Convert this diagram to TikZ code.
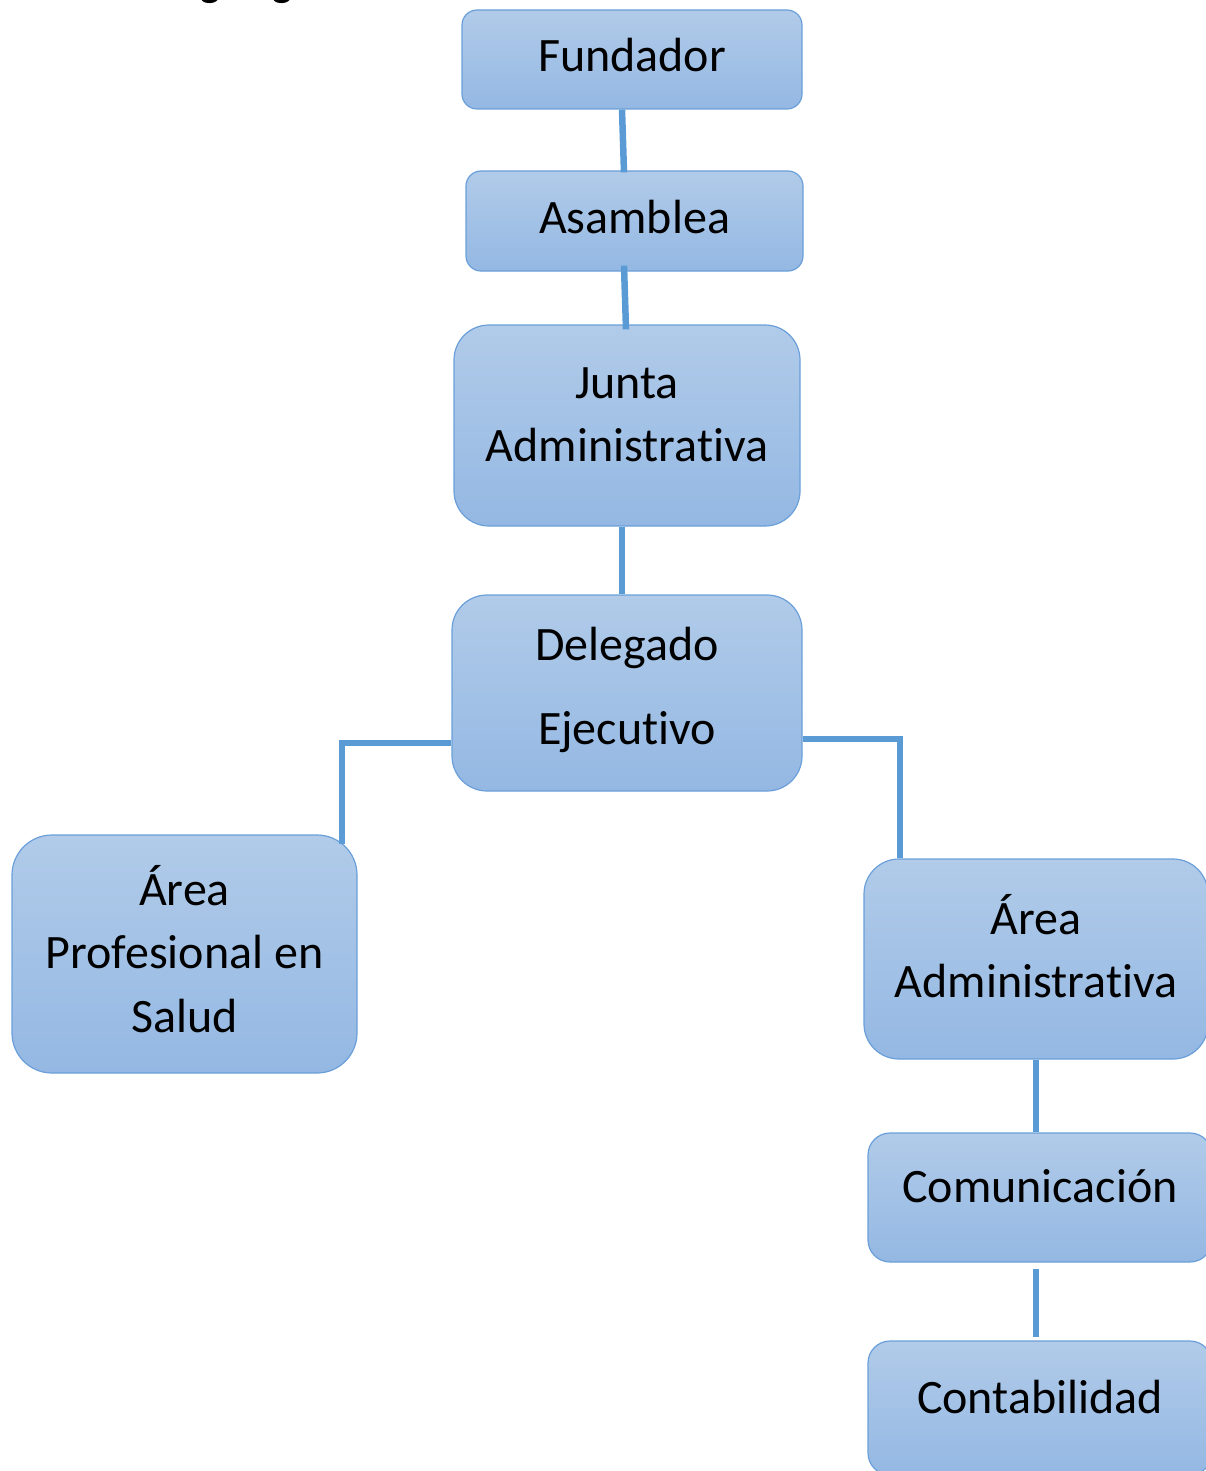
\documentclass[tikz,border=0pt]{standalone}
\usepackage{fontspec}
\setmainfont{Carlito}[Ligatures={NoCommon,NoContextual}]
\definecolor{boxtop}{HTML}{B1CBE9}
\definecolor{boxbot}{HTML}{94B8E3}
\definecolor{boxline}{HTML}{6A9FD9}
\definecolor{connc}{HTML}{5B9BD5}
\begin{document}
\begin{tikzpicture}[x=1pt,y=-1pt,
  box/.style={draw=boxline, line width=1.2pt, top color=boxtop, bottom color=boxbot,
    rounded corners=#1, inner sep=0pt},
  txt/.style={font=\fontsize{48}{63.5}\selectfont, align=center, inner sep=0pt, text=black},
  conn/.style={draw=connc, line width=6.5pt},
  connb/.style={draw=connc, line width=5.5pt}]
\useasboundingbox (0,0) rectangle (1206,1471);
\clip (0,0) rectangle (1206,1471);
% partially visible title
\node[font=\fontsize{42}{50}\selectfont\bfseries, anchor=base west, inner sep=0pt] (title) at (157,-3) {Organigrama};
% boxes
\node[box=15pt, minimum width=340pt, minimum height=99pt] (fund) at (632,59.5) {};
\node[box=15pt, minimum width=337pt, minimum height=100pt] (asam) at (634.5,221) {};
\node[box=35pt, minimum width=346pt, minimum height=201pt] (junta) at (627,425.5) {};
\node[box=35pt, minimum width=350pt, minimum height=196pt] (deleg) at (627,693) {};
\node[box=40pt, minimum width=345pt, minimum height=238pt] (prof) at (184.5,954) {};
\node[box=35pt, minimum width=344pt, minimum height=200pt] (admin) at (1036,959) {};
\node[box=22pt, minimum width=344pt, minimum height=129pt] (com) at (1040,1197.5) {};
\node[box=22pt, minimum width=344pt, minimum height=134pt] (cont) at (1040,1408) {};
% texts
\node[txt] (fundT) at (632,55) {Fundador};
\node[txt] (asamT) at (634.5,217) {Asamblea};
\node[txt] (juntaT) at (627,415) {Junta\\Administrativa};
\node[txt, font=\fontsize{48}{84}\selectfont] (delegT) at (627,690) {Delegado\\Ejecutivo};
\node[txt] (profT) at (184.5,949) {Área\\Profesional en\\Salud};
\node[txt] (adminT) at (1036,946) {Área\\Administrativa};
\node[txt] (comT) at (1040,1186) {Comunicación};
\node[txt] (contT) at (1040,1397) {Contabilidad};
% connectors
\draw[conn] ([xshift=-10pt]fund.south) -- ([xshift=-10.5pt,yshift=-2pt]asam.north);
\draw[conn] ([xshift=-10.5pt,yshift=6pt]asam.south) -- ([xshift=-1pt,yshift=-5pt]junta.north);
\draw[conn] ([xshift=-5pt]junta.south) -- ([xshift=-5pt]deleg.north);
\draw[connb] ([yshift=-50pt]deleg.west) -| ([xshift=157.5pt,yshift=-10pt]prof.north);
\draw[connb] ([yshift=-46pt]deleg.east) -| ([xshift=-136pt]admin.north);
\draw[conn] (admin.south) -- (admin.south |- com.north);
\draw[conn] ([xshift=-4pt,yshift=-6pt]com.south) -- ([xshift=-4pt,yshift=3pt]cont.north);
\end{tikzpicture}
\end{document}
